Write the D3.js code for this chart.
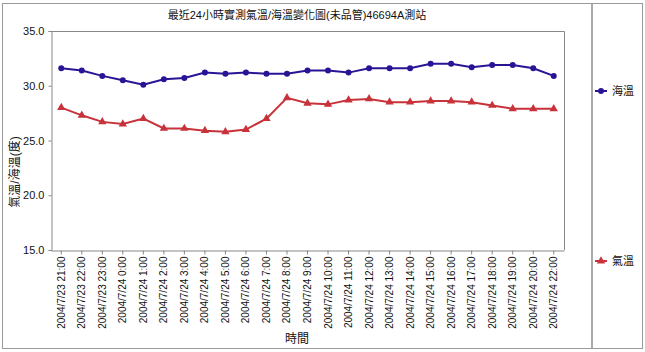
<!DOCTYPE html>
<html>
<head>
<meta charset="utf-8">
<script src="https://cdn.jsdelivr.net/npm/d3@7"></script>
<style>
  body { margin: 0; background: #fff; }
  svg { display: block; }
</style>
</head>
<body>
<script>
// categories: hourly observation times
let times = ["2004/7/23 21:00", "2004/7/23 22:00", "2004/7/23 23:00",
    "2004/7/24 0:00", "2004/7/24 1:00", "2004/7/24 2:00", "2004/7/24 3:00",
    "2004/7/24 4:00", "2004/7/24 5:00", "2004/7/24 6:00", "2004/7/24 7:00",
    "2004/7/24 8:00", "2004/7/24 9:00", "2004/7/24 10:00", "2004/7/24 11:00",
    "2004/7/24 12:00", "2004/7/24 13:00", "2004/7/24 14:00", "2004/7/24 15:00",
    "2004/7/24 16:00", "2004/7/24 17:00", "2004/7/24 18:00", "2004/7/24 19:00",
    "2004/7/24 20:00", "2004/7/24 22:00"];

// sea temperature (海溫)
let seaTemp = [31.6, 31.4, 30.9, 30.5, 30.1, 30.6, 30.7, 31.2, 31.1, 31.2, 31.1, 31.1, 31.4,
    31.4, 31.2, 31.6, 31.6, 31.6, 32.0, 32.0, 31.7, 31.9, 31.9, 31.6, 30.9];

// air temperature (氣溫)
let airTemp = [28.0, 27.3, 26.7, 26.5, 27.0, 26.1, 26.1, 25.9, 25.8, 26.0, 27.0, 28.9, 28.4,
    28.3, 28.7, 28.8, 28.5, 28.5, 28.6, 28.6, 28.5, 28.2, 27.9, 27.9, 27.9];

let yTicks = [15, 20, 25, 30, 35];

let w = 645;
let h = 352;
let font = "'Liberation Sans', Arial, 'Noto Sans CJK TC', sans-serif";
let blue = "#2a1496";
let red = "#c8323a";
let gray = "#999";

let svg = d3.select("body")
    .append("svg")
    .attr("width", w)
    .attr("height", h)
    .style("font-family", font);

/************** frame **************/
svg.append("rect")
    .attr("x", 2.5).attr("y", 3.5)
    .attr("width", 640).attr("height", 345)
    .attr("fill", "#fff")
    .attr("stroke", gray);

svg.append("line")        // separator between chart and legend
    .attr("x1", 592).attr("x2", 592)
    .attr("y1", 3.5).attr("y2", 348.5)
    .attr("stroke", "#aaa")
    .attr("stroke-width", 2);

/************** scales **************/
let plotL = 51, plotR = 564, plotT = 31, plotB = 250;

let xScale = d3.scaleBand()
    .domain(times)
    .range([plotL, plotR]);

let yScale = d3.scaleLinear()
    .domain([15, 35])
    .range([plotB, plotT]);

let cx = function(d, i) { return xScale(times[i]) + xScale.bandwidth() / 2; };

// plot area border (top + right)
svg.append("path")
    .attr("d", `M${plotL},${plotT + 0.5}H${plotR + 0.5}V${plotB}`)
    .attr("fill", "none")
    .attr("stroke", "#888");

/************** axes **************/
let yAxis = svg.append("g")
    .attr("transform", `translate(${plotL + 0.5},0)`)
    .call(d3.axisLeft(yScale).tickValues(yTicks).tickFormat(d3.format(".1f")).tickSize(3).tickPadding(4));

yAxis.select(".domain").attr("stroke", "#888");
yAxis.selectAll(".tick line").attr("stroke", "#888");
yAxis.selectAll("text")
    .attr("font-size", "11px")
    .attr("font-family", font)
    .attr("fill", "#111");

let xAxis = svg.append("g")
    .attr("transform", `translate(0,${plotB + 0.5})`)
    .call(d3.axisBottom(xScale).tickSize(4).tickSizeOuter(0));

xAxis.select(".domain").attr("stroke", "#888");
xAxis.selectAll(".tick line").attr("stroke", "#888");
xAxis.selectAll("text")
    .attr("font-size", "10px")
    .attr("font-family", font)
    .attr("fill", "#111")
    .attr("transform", "rotate(-90)")
    .attr("text-anchor", "end")
    .attr("x", -6)
    .attr("y", 0)
    .attr("dy", "0.35em");

/************** titles **************/
svg.append("text")
    .attr("x", 297).attr("y", 19)
    .attr("text-anchor", "middle")
    .attr("font-size", "11px")
    .attr("fill", "#111")
    .text("最近24小時實測氣溫/海溫變化圖(未品管)46694A測站");

svg.append("text")
    .attr("transform", "translate(19,172) rotate(-90)")
    .attr("text-anchor", "middle")
    .attr("font-size", "12px")
    .attr("fill", "#111")
    .text("氣溫/海溫(度)");

svg.append("text")
    .attr("x", 297).attr("y", 343)
    .attr("text-anchor", "middle")
    .attr("font-size", "12px")
    .attr("fill", "#111")
    .text("時間");

/************** series **************/
let line = d3.line()
    .x(cx)
    .y(function(d) { return yScale(d); });

let tri = d3.symbol().type(d3.symbolTriangle).size(30);

svg.append("path")
    .datum(seaTemp)
    .attr("d", line)
    .attr("fill", "none")
    .attr("stroke", blue)
    .attr("stroke-width", 2);

svg.selectAll("circle.sea")
    .data(seaTemp)
    .enter()
    .append("circle")
    .attr("class", "sea")
    .attr("cx", cx)
    .attr("cy", function(d) { return yScale(d); })
    .attr("r", 3)
    .attr("fill", blue);

svg.append("path")
    .datum(airTemp)
    .attr("d", line)
    .attr("fill", "none")
    .attr("stroke", red)
    .attr("stroke-width", 2);

svg.selectAll("path.air")
    .data(airTemp)
    .enter()
    .append("path")
    .attr("class", "air")
    .attr("d", tri)
    .attr("transform", function(d, i) {
        return `translate(${cx(d, i)},${yScale(d)})`;
    })
    .attr("fill", red);

/************** legend **************/
let legend = [
    {name: "海溫", color: blue, y: 91, marker: "circle"},
    {name: "氣溫", color: red, y: 261, marker: "tri"}
];

legend.forEach(function(d) {
    let g = svg.append("g");
    g.append("line")
        .attr("x1", 595).attr("x2", 607)
        .attr("y1", d.y).attr("y2", d.y)
        .attr("stroke", d.color)
        .attr("stroke-width", 2);
    if (d.marker === "circle") {
        g.append("circle").attr("cx", 601).attr("cy", d.y).attr("r", 3).attr("fill", d.color);
    } else {
        g.append("path").attr("d", tri).attr("transform", `translate(601,${d.y})`).attr("fill", d.color);
    }
    g.append("text")
        .attr("x", 612).attr("y", d.y)
        .attr("dy", "0.35em")
        .attr("font-size", "11px")
        .attr("fill", "#111")
        .text(d.name);
});
</script>
</body>
</html>
